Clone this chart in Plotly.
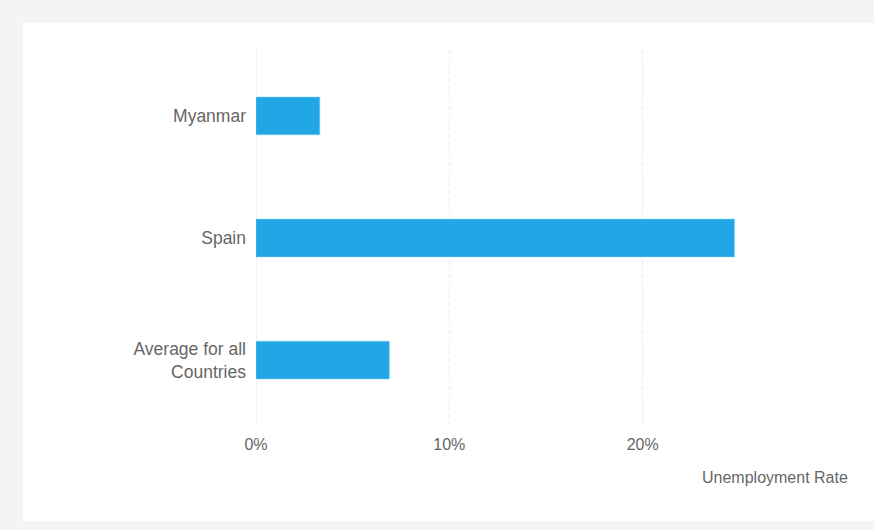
import plotly.graph_objects as go

categories = ["Myanmar", "Spain", "Average for all<br>Countries"]
values = [3.3, 24.75, 6.9]
tick_vals = [0, 10, 20]
tick_text = ["0%", "10%", "20%"]

W, H = 874, 530
L, R, T, B = 256, 37.5, 50, 104
pw = W - L - R
ph = H - T - B

def px(x):
    return (x - L) / pw

def py(y):
    return (H - B - y) / ph

fig = go.Figure()
fig.add_trace(go.Bar(
    x=values, y=categories, orientation="h",
    marker=dict(color="#22A7E6", line=dict(color="#7fd0f5", width=0.5)),
    width=0.31, hoverinfo="skip",
))

fig.update_layout(
    width=W, height=H,
    margin=dict(l=L, r=R, t=T, b=B),
    paper_bgcolor="#f4f4f4",
    plot_bgcolor="rgba(0,0,0,0)",
    showlegend=False,
    font=dict(family="Liberation Sans, Arial, sans-serif", color="#666666"),
    xaxis=dict(
        range=[0, 30], tickvals=tick_vals, ticktext=tick_text,
        showgrid=True, gridcolor="#ebebeb", griddash="4px,3px", gridwidth=1,
        zeroline=False, showline=False,
        tickfont=dict(size=16, color="#666666"),
        ticks="", ticklabelstandoff=7,
    ),
    yaxis=dict(
        autorange=False, range=[2.54, -0.54],
        showgrid=False, zeroline=False, showline=False,
        tickfont=dict(size=17.5, color="#666666"),
        ticks="", ticklabelstandoff=9,
    ),
    shapes=[
        dict(type="rect", xref="paper", yref="paper",
             x0=px(23), x1=px(880), y0=py(521), y1=py(23),
             fillcolor="white", line=dict(width=0), layer="below"),
        dict(type="line", xref="x", yref="paper", x0=0, x1=0, y0=0, y1=py(48),
             line=dict(color="#e4e4e4", width=1), layer="below"),
    ],
    annotations=[
        dict(text="Unemployment Rate", xref="paper", yref="paper",
             x=px(851), y=py(477), xanchor="right", yanchor="middle",
             showarrow=False, font=dict(size=16, color="#666666")),
    ],
)

fig.write_html("out.html")
